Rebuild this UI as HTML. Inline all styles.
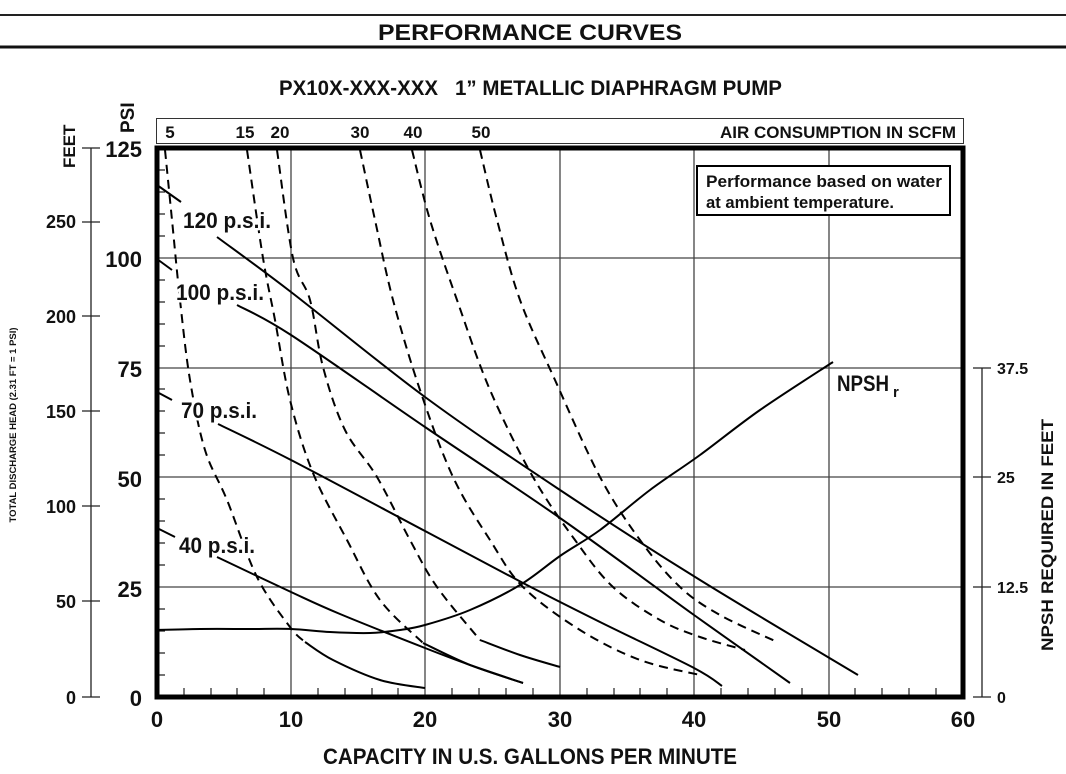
<!DOCTYPE html>
<html><head><meta charset="utf-8"><style>
html,body{margin:0;padding:0;background:#fff}
svg{display:block}
text{font-family:"Liberation Sans Narrow","Liberation Sans",sans-serif;font-weight:bold;fill:#111}
.lbl{paint-order:stroke;stroke:#fff;stroke-width:5px;stroke-linejoin:round}
</style></head><body>
<svg id="sv" width="1066" height="774" viewBox="0 0 1066 774" xmlns="http://www.w3.org/2000/svg">
<line x1="0" y1="15" x2="1066" y2="15" stroke="#222" stroke-width="2"/>
<line x1="0" y1="47" x2="1066" y2="47" stroke="#111" stroke-width="3"/>
<text x="530" y="40" font-size="22" text-anchor="middle" textLength="304" lengthAdjust="spacingAndGlyphs">PERFORMANCE CURVES</text>
<text x="279" y="95" font-size="21" textLength="159" lengthAdjust="spacingAndGlyphs">PX10X-XXX-XXX</text>
<text x="455" y="95" font-size="21" textLength="327" lengthAdjust="spacingAndGlyphs">1” METALLIC DIAPHRAGM PUMP</text>

<!-- top bar -->
<rect x="156.5" y="118.5" width="807" height="25" fill="none" stroke="#333" stroke-width="1"/>
<g font-size="17" text-anchor="middle">
<text x="170" y="138">5</text><text x="245" y="138">15</text><text x="280" y="138">20</text>
<text x="360" y="138">30</text><text x="413" y="138">40</text><text x="481" y="138">50</text>
</g>
<text x="956" y="138" font-size="17" text-anchor="end" textLength="236" lengthAdjust="spacingAndGlyphs">AIR CONSUMPTION IN SCFM</text>

<!-- grid -->
<g stroke="#444" stroke-width="1.3">
<line x1="291" y1="148" x2="291" y2="697"/><line x1="425" y1="148" x2="425" y2="697"/>
<line x1="560" y1="148" x2="560" y2="697"/><line x1="694" y1="148" x2="694" y2="697"/>
<line x1="829" y1="148" x2="829" y2="697"/>
<line x1="157" y1="587" x2="963" y2="587"/><line x1="157" y1="477" x2="963" y2="477"/>
<line x1="157" y1="368" x2="963" y2="368"/><line x1="157" y1="258" x2="963" y2="258"/>
</g>
<g stroke="#222" stroke-width="1.2">
<path d="M157 675h8M157 653h8M157 631h8M157 609h8M157 565h8M157 543h8M157 521h8M157 499h8M157 455h8M157 433h8M157 411h8M157 389h8M157 346h8M157 324h8M157 302h8M157 280h8M157 236h8M157 214h8M157 192h8M157 170h8"/>
<path d="M184 697v-9M211 697v-9M237 697v-9M264 697v-9M318 697v-9M345 697v-9M372 697v-9M398 697v-9M452 697v-9M479 697v-9M506 697v-9M533 697v-9M587 697v-9M614 697v-9M640 697v-9M667 697v-9M721 697v-9M748 697v-9M775 697v-9M802 697v-9M855 697v-9M882 697v-9M909 697v-9M936 697v-9"/>
</g>

<!-- dashed scfm curves -->
<g fill="none" stroke="#000" stroke-width="2" stroke-dasharray="9,6">
<polyline class="s" points="165,150 172,220 180,300 190,380 205,450 227,500 257,577 290,627 305,642"/>
<polyline class="s" points="247,150 263,258 275,320 290,400 313,473 347,540 380,600 423,643"/>
<polyline class="s" points="277,150 293,258 310,300 323,367 345,430 377,477 410,540 437,587 480,640"/>
<polyline class="s" points="360,150 375,220 393,300 420,390 453,477 490,540 523,587 580,630 640,660 700,675"/>
<polyline class="s" points="412,150 430,220 457,300 490,390 533,477 575,540 613,587 660,620 700,637 745,650"/>
<polyline class="s" points="480,150 497,220 520,300 555,380 600,477 640,540 680,587 720,615 775,641"/>
</g>
<g fill="none" stroke="#000" stroke-width="2" stroke-linejoin="round">
<polyline class="s" points="305,642 333,660 380,680 425,688"/>
<polyline class="s" points="423,643 470,665 523,683"/>
<polyline class="s" points="480,640 520,655 560,667"/>
<polyline class="s" points="157,630 200,629 250,629 291,629 330,632 370,633 400,630 425,625 470,610 520,585 560,556 600,530 650,490 700,455 760,410 833,362"/>
<polyline points="157,185 181,202"/>
<polyline class="s" points="217,237 291,292 425,397 560,490 700,580 858,675"/>
<polyline points="157,259 172,270"/>
<polyline class="s" points="237,305 291,335 425,427 560,518 694,615 790,683"/>
<polyline points="157,392 172,400"/>
<polyline class="s" points="218,424 291,460 425,531 523,583 600,622 694,668 722,686"/>
<polyline points="157,528 175,537"/>
<polyline class="s" points="217,557 291,592 340,614 425,648 470,665 523,683"/>
</g>

<rect x="157" y="148" width="806" height="549" fill="none" stroke="#000" stroke-width="5"/>

<g font-size="22">
<text class="lbl" x="183" y="228" textLength="88" lengthAdjust="spacingAndGlyphs">120 p.s.i.</text>
<text class="lbl" x="176" y="300" textLength="88" lengthAdjust="spacingAndGlyphs">100 p.s.i.</text>
<text class="lbl" x="181" y="418" textLength="76" lengthAdjust="spacingAndGlyphs">70 p.s.i.</text>
<text class="lbl" x="179" y="553" textLength="76" lengthAdjust="spacingAndGlyphs">40 p.s.i.</text>
<text x="837" y="391" textLength="52" lengthAdjust="spacingAndGlyphs">NPSH</text>
<text x="893" y="397" font-size="15">r</text>
</g>

<rect x="697" y="166" width="253" height="49" fill="#fff" stroke="#000" stroke-width="2"/>
<text x="706" y="187" font-size="17" textLength="236" lengthAdjust="spacingAndGlyphs">Performance based on water</text>
<text x="706" y="208" font-size="17" textLength="188" lengthAdjust="spacingAndGlyphs">at ambient temperature.</text>

<g font-size="22" text-anchor="end">
<text x="142" y="157">125</text><text x="142" y="267">100</text><text x="142" y="377">75</text>
<text x="142" y="487">50</text><text x="142" y="597">25</text><text x="142" y="706">0</text>
</g>
<g stroke="#222" stroke-width="1.3">
<line x1="91" y1="148" x2="91" y2="697"/>
<path d="M82 148h18M82 222h18M82 316h18M82 411h18M82 506h18M82 601h18M82 697h18"/>
</g>
<g font-size="18" text-anchor="end">
<text x="76" y="228">250</text><text x="76" y="323">200</text><text x="76" y="418">150</text>
<text x="76" y="513">100</text><text x="76" y="608">50</text><text x="76" y="704">0</text>
</g>
<text transform="translate(75,168) rotate(-90)" font-size="17">FEET</text>
<text transform="translate(134,133) rotate(-90)" font-size="19">PSI</text>
<text transform="translate(16,425) rotate(-90)" font-size="9" text-anchor="middle" textLength="195" lengthAdjust="spacingAndGlyphs">TOTAL DISCHARGE HEAD (2.31 FT = 1 PSI)</text>

<g stroke="#222" stroke-width="1.3">
<line x1="982" y1="368" x2="982" y2="697"/>
<path d="M973 368h18M973 477h18M973 587h18M973 697h18"/>
</g>
<g font-size="16">
<text x="997" y="374">37.5</text><text x="997" y="483">25</text>
<text x="997" y="593">12.5</text><text x="997" y="703">0</text>
</g>
<text transform="translate(1053,535) rotate(-90)" font-size="17" text-anchor="middle" textLength="232" lengthAdjust="spacingAndGlyphs">NPSH REQUIRED IN FEET</text>

<g font-size="22" text-anchor="middle">
<text x="157" y="727">0</text><text x="291" y="727">10</text><text x="425" y="727">20</text>
<text x="560" y="727">30</text><text x="694" y="727">40</text><text x="829" y="727">50</text><text x="963" y="727">60</text>
</g>
<text x="530" y="764" font-size="22" text-anchor="middle" textLength="414" lengthAdjust="spacingAndGlyphs">CAPACITY IN U.S. GALLONS PER MINUTE</text>
</svg>
<script>
(function(){
var NS="http://www.w3.org/2000/svg";
var pls=document.querySelectorAll("polyline.s");
for(var k=0;k<pls.length;k++){
 var pl=pls[k];
 var a=pl.getAttribute("points").trim().split(/\s+/).map(function(s){var q=s.split(",");return [+q[0],+q[1]];});
 var d="M"+a[0][0]+" "+a[0][1];
 for(var i=0;i<a.length-1;i++){
  var p0=a[i-1]||a[i],p1=a[i],p2=a[i+1],p3=a[i+2]||a[i+1];
  var c1=[p1[0]+(p2[0]-p0[0])/6,p1[1]+(p2[1]-p0[1])/6];
  var c2=[p2[0]-(p3[0]-p1[0])/6,p2[1]-(p3[1]-p1[1])/6];
  d+=" C"+c1[0].toFixed(1)+" "+c1[1].toFixed(1)+" "+c2[0].toFixed(1)+" "+c2[1].toFixed(1)+" "+p2[0]+" "+p2[1];
 }
 var p=document.createElementNS(NS,"path");
 p.setAttribute("d",d);
 pl.parentNode.replaceChild(p,pl);
}
})();
</script>
</body></html>
